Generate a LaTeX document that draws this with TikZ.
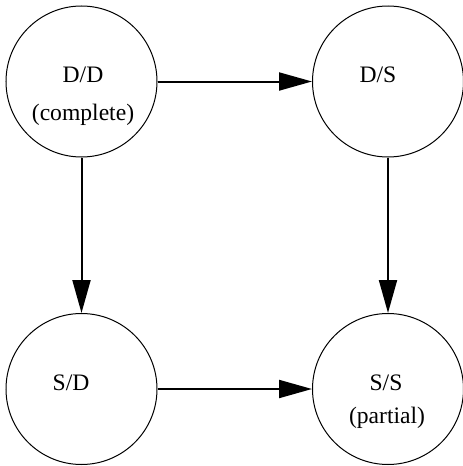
\documentclass[tikz,border=0pt]{standalone}
\usepackage{fontspec}
\setmainfont{Liberation Serif}
\usetikzlibrary{arrows.meta,positioning}
\tikzstyle{Astate}=[draw,circle,minimum size=75.5pt,inner sep=0,line width=0.5pt]
\tikzstyle{Alab}=[anchor=base,inner sep=0,font=\fontsize{11.8}{14}\selectfont]
\tikzstyle{aS}=[every edge/.style={draw,line width=1pt,-{Triangle[length=16.5pt,width=9pt]}}]
\begin{document}
\begin{tikzpicture}[aS,x=0.5pt,y=-0.5pt]
  \useasboundingbox (0,0) rectangle (462,466);
  	\node[Astate] (dd) at (81.5,81.5) {};
  	\node[Astate] (ds) at (388,81.5) {};
  	\node[Astate] (sd) at (81.5,389) {};
  	\node[Astate] (ss) at (388,389) {};
  	\node[Alab] (ddl) at (83,83) {D/D};
  	\node[Alab] (ddc) at (83,120) {(complete)};
  	\node[Alab] (dsl) at (378,83) {D/S};
  	\node[Alab] (sdl) at (71,390) {S/D};
  	\node[Alab] (ssl) at (386,390) {S/S};
  	\node[Alab] (ssp) at (387,423) {(partial)};
  	\path (dd) edge (ds) (dd) edge (sd);
  	\path (ds) edge (ss) (sd) edge (ss);
\end{tikzpicture}
\end{document}
